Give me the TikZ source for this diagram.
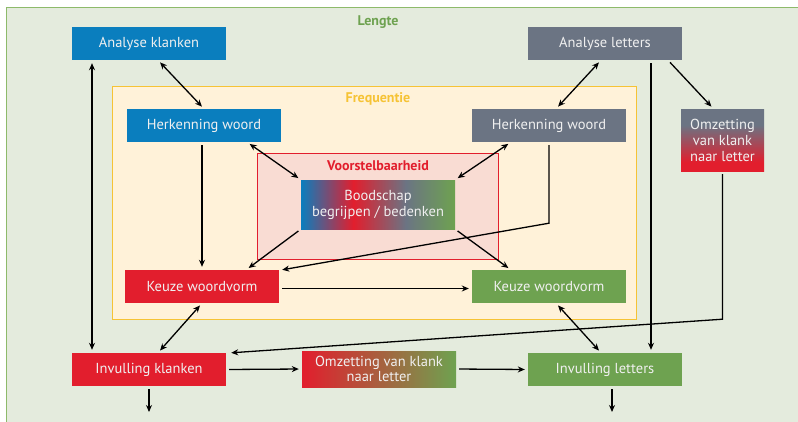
\documentclass[tikz,border=0pt]{standalone}
\usepackage{fontspec}
\setmainfont{PT Sans}
\usetikzlibrary{arrows.meta}
\definecolor{kblue}{RGB}{10,126,190}
\definecolor{kgray}{RGB}{107,116,131}
\definecolor{kred}{RGB}{226,30,45}
\definecolor{kgreen}{RGB}{110,162,80}
\definecolor{lengtebg}{RGB}{228,235,221}
\definecolor{lengteln}{RGB}{141,186,106}
\definecolor{freqbg}{RGB}{255,242,217}
\definecolor{freqln}{RGB}{246,195,53}
\definecolor{voorbg}{RGB}{249,220,211}
\pgfdeclarehorizontalshading{boodshade}{100bp}{color(0bp)=(kblue); color(25bp)=(kblue); color(42bp)=(kred); color(59bp)=(kgray); color(75bp)=(kgreen); color(100bp)=(kgreen)}
\pgfdeclarehorizontalshading{omzshade}{100bp}{color(0bp)=(kred); color(25bp)=(kred); color(75bp)=(kgreen); color(100bp)=(kgreen)}
\pgfdeclareverticalshading{omzvshade}{100bp}{color(0bp)=(kred); color(32bp)=(kred); color(62bp)=(kgray); color(100bp)=(kgray)}
\tikzset{
  box/.style={minimum width=154pt,minimum height=33pt,inner sep=0pt,
    text=white!94!black,align=center,font=\fontsize{14.5}{15}\selectfont},
  kop/.style={font=\fontsize{14}{15}\selectfont\bfseries},
  pijl/.style={->,line width=1.3pt,shorten <=3pt,shorten >=3pt},
  dpijl/.style={<->,line width=1.3pt,shorten <=3pt,shorten >=3pt}
}
\begin{document}
\begin{tikzpicture}[x=1pt,y=-1pt,>={Stealth[length=7pt,width=6pt]}]
      \useasboundingbox (0,0) rectangle (798,421);
      % achtergrondvlakken
      \fill[color=white] (0,0) rectangle (798,421);
      \draw[lengteln,fill=lengtebg,line width=1pt] (6,7) rectangle (820,440);
      \draw[freqln,fill=freqbg,line width=1pt] (112,86) rectangle (636,319);
      \draw[kred,fill=voorbg,line width=0.8pt] (257,153) rectangle (498,259);
      \node[kop,text=kgreen] (lengte) at (378,22) {Lengte};
      \node[kop,text=freqln] (freq) at (378,99) {Frequentie};
      \node[kop,text=kred] (voor) at (378,166) {Voorstelbaarheid};
      % blokken
      \node[box,fill=kblue] (anaK) at (149,43.5) {Analyse klanken};
      \node[box,fill=kgray] (anaL) at (605,43.5) {Analyse letters};
      \node[box,fill=kblue] (herkL) at (204,125.5) {Herkenning woord};
      \node[box,fill=kgray] (herkR) at (549,125.5) {Herkenning woord};
      \node[box,minimum width=83pt,minimum height=62pt,shading=omzvshade,
        font=\fontsize{14.5}{16}\selectfont] (omzR) at (722.5,140) {Omzetting\\van klank\\naar letter};
      \node[box,minimum height=49pt,shading=boodshade,
        font=\fontsize{14.5}{16}\selectfont] (bood) at (378,204.5) {Boodschap\\begrijpen / bedenken};
      \node[box,fill=kred] (keuzeL) at (202,286.5) {Keuze woordvorm};
      \node[box,fill=kgreen] (keuzeR) at (549,286.5) {Keuze woordvorm};
      \node[box,fill=kred] (invK) at (149,369.5) {Invulling klanken};
      \node[box,minimum height=36pt,shading=omzshade,
        font=\fontsize{14.5}{15}\selectfont] (omzB) at (379,369) {Omzetting van klank\\naar letter};
      \node[box,fill=kgreen] (invL) at (605,369.5) {Invulling letters};
      \coordinate (uitK) at (149,412);
      \coordinate (uitL) at (612,412);
      % verbindingen
      \draw[dpijl] ([xshift=9]anaK.south) -- (herkL.north);
      \draw[dpijl] ([xshift=-4]anaL.south) -- ([xshift=7]herkR.north);
      \draw[pijl] ([xshift=63]anaL.south) -- ([xshift=-9]omzR.north);
      \draw[pijl] ([xshift=46]anaL.south) -- ([xshift=46]invL.north);
      \draw[dpijl] ([xshift=-57]anaK.south) -- ([xshift=-57]invK.north);
      \draw[pijl] ([xshift=-2]herkL.south) -- ([xshift=-2]herkL.south |- keuzeL.north);
      \draw[dpijl] ([xshift=-34]herkL.south east) -- (bood.north west);
      \draw[dpijl] ([xshift=39]herkR.south west) -- (bood.north east);
      \draw[pijl] (bood.south west) -- ([xshift=-33]keuzeL.north east);
      \draw[pijl] (bood.south east) -- ([xshift=39]keuzeR.north west);
      \draw[pijl,shorten >=0pt] (herkR.south) -- ++(0,81) -- ([xshift=3]keuzeL.north east);
      \draw[pijl] ([yshift=-2]keuzeL.east) -- ([yshift=-2]keuzeR.west);
      \draw[dpijl] (keuzeL.south) -- ([xshift=9]invK.north);
      \draw[dpijl] ([xshift=7]keuzeR.south) -- ([xshift=-4]invL.north);
      \draw[pijl,shorten >=0pt] (omzR.south) -- ++(0,148) -- ([xshift=5]invK.north east);
      \draw[pijl] (invK.east) -- (omzB.west);
      \draw[pijl] (omzB.east) -- (invL.west);
      \draw[pijl,shorten >=0pt] (invK.south) -- (uitK);
      \draw[pijl,shorten >=0pt] ([xshift=7]invL.south) -- (uitL);
    \end{tikzpicture}
\end{document}
